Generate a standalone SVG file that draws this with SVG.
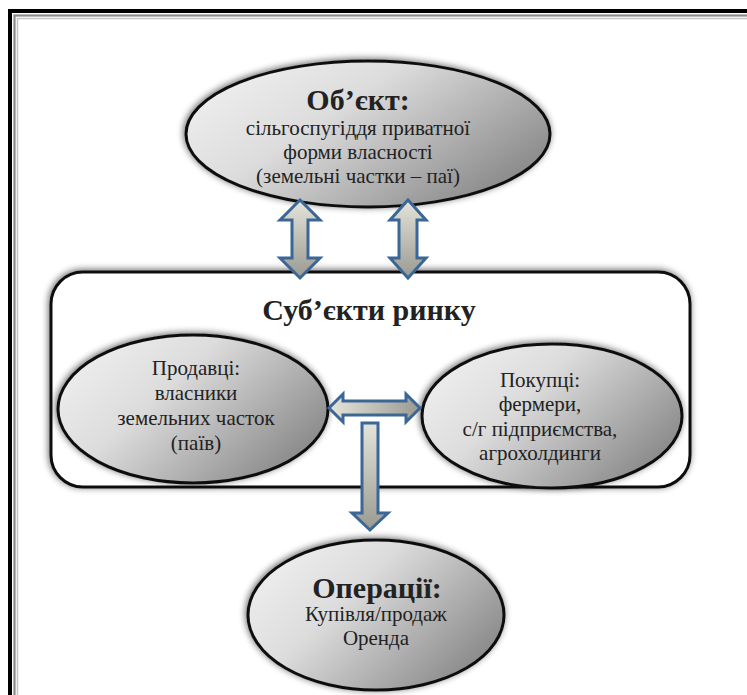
<svg xmlns="http://www.w3.org/2000/svg" width="747" height="695" viewBox="0 0 747 695">
<defs>
<linearGradient id="ellG" x1="0" y1="0" x2="1" y2="0.6">
<stop offset="0" stop-color="#f4f4f4"/>
<stop offset="0.45" stop-color="#dcdcdc"/>
<stop offset="1" stop-color="#8e8e8e"/>
</linearGradient>
<linearGradient id="arrV" x1="0" y1="0" x2="0" y2="1">
<stop offset="0" stop-color="#e4e4da"/>
<stop offset="1" stop-color="#9a9a92"/>
</linearGradient>
<linearGradient id="arrH" x1="0" y1="0" x2="1" y2="0">
<stop offset="0" stop-color="#e4e4da"/>
<stop offset="1" stop-color="#9a9a92"/>
</linearGradient>
<filter id="sh" x="-20%" y="-20%" width="140%" height="140%">
<feGaussianBlur in="SourceAlpha" stdDeviation="3.5"/>
<feOffset dx="-1" dy="-1" result="b"/>
<feComponentTransfer><feFuncA type="linear" slope="0.6"/></feComponentTransfer>
<feMerge><feMergeNode/><feMergeNode in="SourceGraphic"/></feMerge>
</filter>
</defs>
<style>
.ell{fill:url(#ellG);stroke:#111;stroke-width:3;filter:url(#sh)}
.t{font-family:"Liberation Serif","Times New Roman",serif;fill:#222;text-anchor:middle;font-size:21px}
.b{font-weight:bold}
.arr{stroke:#3b6797;stroke-width:3;stroke-linejoin:miter}
</style>
<rect width="747" height="695" fill="#fff"/>
<g id="frame" fill="none">
<rect x="10" y="11" width="800" height="800" stroke="#000" stroke-width="4"/>
<rect x="14.5" y="15.5" width="800" height="800" stroke="#8a8a8a" stroke-width="2.2"/>
<rect x="17.5" y="18.5" width="800" height="800" stroke="#c4c4c4" stroke-width="1.5"/>
</g>
<g id="subjects">
<rect x="51" y="272" width="639" height="215" rx="32" fill="#fff" stroke="#111" stroke-width="3" filter="url(#sh)"/>
<text class="t b" x="369" y="320" font-size="30" style="font-size:30px">Суб’єкти ринку</text>
</g>
<g id="object">
<ellipse class="ell" cx="368" cy="134" rx="182" ry="73"/>
<text class="t b" x="358" y="110" style="font-size:30px">Об’єкт:</text>
<text class="t" x="358" y="135">сільгоспугіддя приватної</text>
<text class="t" x="358" y="159">форми власності</text>
<text class="t" x="358" y="183">(земельні частки – паї)</text>
</g>
<g id="sellers">
<ellipse class="ell" cx="193" cy="409" rx="135" ry="74"/>
<text class="t" x="196" y="375">Продавці:</text>
<text class="t" x="196" y="400">власники</text>
<text class="t" x="196" y="425">земельних часток</text>
<text class="t" x="196" y="450">(паїв)</text>
</g>
<g id="buyers">
<ellipse class="ell" cx="552" cy="416" rx="130" ry="72"/>
<text class="t" x="540" y="387">Покупці:</text>
<text class="t" x="540" y="411">фермери,</text>
<text class="t" x="540" y="436">с/г підприємства,</text>
<text class="t" x="540" y="460">агрохолдинги</text>
</g>
<g id="operations">
<ellipse class="ell" cx="376" cy="615" rx="128" ry="75"/>
<text class="t b" x="377" y="598" style="font-size:30px">Операції:</text>
<text class="t" x="376" y="621">Купівля/продаж</text>
<text class="t" x="376" y="645">Оренда</text>
</g>
<g id="connectors">
<path class="arr" fill="url(#arrV)" d="M300,200 L320,220 L308,220 L308,258 L320,258 L300,278 L280,258 L292,258 L292,220 L280,220 Z"/>
<path class="arr" fill="url(#arrV)" d="M408,200 L426,220 L417,220 L417,258 L426,258 L408,278 L390,258 L399,258 L399,220 L390,220 Z"/>
<path class="arr" fill="url(#arrH)" d="M329,408 L343,394 L343,401 L406,401 L406,394 L420,408 L406,422 L406,415 L343,415 L343,422 Z"/>
<path class="arr" fill="url(#arrV)" d="M362,423 L378,423 L378,513 L388,513 L370,530 L352,513 L362,513 Z"/>
</g>
</svg>
